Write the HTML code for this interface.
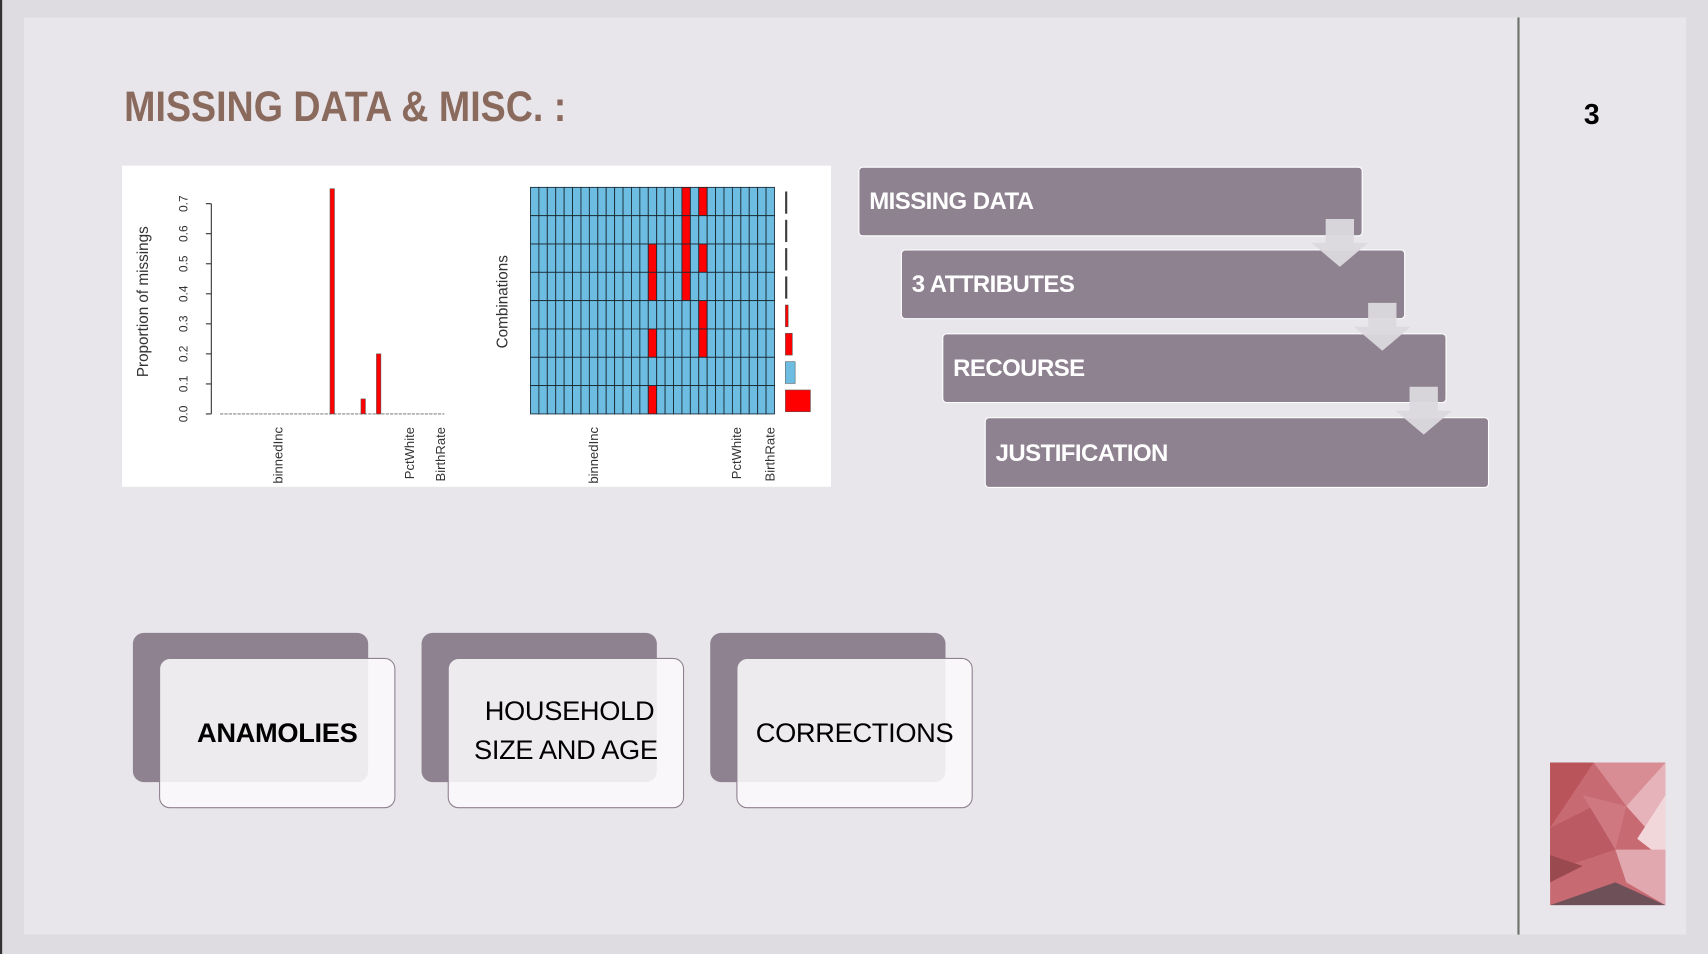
<!DOCTYPE html>
<html><head><meta charset="utf-8"><style>
html,body{margin:0;padding:0;width:1708px;height:954px;overflow:hidden;background:#dedce1;}
#stage{position:absolute;left:0;top:0;width:1568px;height:876px;transform:scale(1.08929);transform-origin:0 0;font-family:"Liberation Sans",sans-serif;}
.abs{position:absolute;}
.flow{position:absolute;background:#8e8190;border:1.5px solid #fff;border-radius:4px;color:#fff;font-weight:bold;font-size:22px;box-sizing:border-box;padding-left:9px;display:flex;align-items:center;letter-spacing:-0.5px;}
.back{position:absolute;background:#8e8190;border-radius:10px;width:216px;height:137px;}
.front{position:absolute;background:rgba(250,249,251,0.88);border:1.5px solid #8e8190;border-radius:10px;width:217px;height:138px;box-sizing:border-box;display:flex;align-items:center;justify-content:center;text-align:center;font-size:25px;color:#000;line-height:36px;letter-spacing:-0.3px;}
</style></head><body>
<div id="stage">
<div class="abs" style="left:0;top:0;width:2px;height:876px;background:#333;"></div>
<div class="abs" style="left:22px;top:16px;width:1526px;height:842px;background:#e8e6eb;"></div>
<div class="abs" style="left:1393px;top:16px;width:2px;height:842px;background:#6f746d;"></div>
<div class="abs" style="left:114px;top:77px;font-weight:bold;font-size:39px;color:#8b6a5e;transform:scaleX(0.885);transform-origin:0 0;white-space:nowrap;">MISSING DATA &amp; MISC. :</div>
<div class="abs" style="left:1454px;top:90px;font-weight:bold;font-size:26px;color:#000;">3</div>

<svg class="abs" style="left:112px;top:152px" width="651" height="295" viewBox="112 152 651 295" font-family="Liberation Sans, sans-serif">
<rect x="112" y="152" width="651" height="295" fill="#fff"/>
<g id="bars"></g><g id="matrix"></g>
</svg>

<div class="flow" style="left:788px;top:153px;width:463px;height:64px;">MISSING DATA</div>
<div class="flow" style="left:827px;top:229px;width:463px;height:64px;">3 ATTRIBUTES</div>
<div class="flow" style="left:865px;top:306px;width:463px;height:64px;">RECOURSE</div>
<div class="flow" style="left:904px;top:383px;width:463px;height:65px;">JUSTIFICATION</div>
<svg class="abs" style="left:0;top:0" width="1568" height="876">
<path d="M1217 201h26v22h13l-26 22l-26-22h13z" fill="#dcd9de" opacity="0.95"/>
<path d="M1256 278h26v22h13l-26 22l-26-22h13z" fill="#dcd9de" opacity="0.95"/>
<path d="M1294 355h26v22h13l-26 22l-26-22h13z" fill="#dcd9de" opacity="0.95"/>
</svg>

<div class="back" style="left:122px;top:581px;"></div>
<div class="front" style="left:146px;top:604px;font-weight:bold;">ANAMOLIES</div>
<div class="back" style="left:387px;top:581px;"></div>
<div class="front" style="left:411px;top:604px;padding-bottom:4px;">&nbsp;HOUSEHOLD<br>SIZE AND AGE</div>
<div class="back" style="left:652px;top:581px;"></div>
<div class="front" style="left:676px;top:604px;">CORRECTIONS</div>

<svg class="abs" style="left:1423px;top:700px" width="106" height="131" viewBox="0 0 106 131">
<rect width="106" height="131" fill="#c86a72"/>
<polygon points="0,0 40,0 0,60" fill="#b8545a"/>
<polygon points="40,0 106,0 70,40" fill="#d88c94"/>
<polygon points="70,40 106,0 106,80" fill="#e6b3ba"/>
<polygon points="106,30 106,90 80,70" fill="#f1d6da"/>
<polygon points="0,60 40,40 60,80 0,100" fill="#bb5a62"/>
<polygon points="60,80 106,80 106,131 70,110" fill="#e2a8b0"/>
<polygon points="0,85 30,95 0,110" fill="#9a4a4e"/>
<polygon points="0,131 60,110 106,131" fill="#6e5058"/>
<polygon points="30,30 70,40 60,80" fill="#cf7880"/>
</svg>
</div>
<script>
// bar chart data
const nVars = 29;
const missingIdx = [14, 18, 20];
const missingVals = [0.75, 0.05, 0.2];
const yTicks = [0.0, 0.1, 0.2, 0.3, 0.4, 0.5, 0.6, 0.7];
const varLabels = ["binnedInc", "PctWhite", "BirthRate"];
const varLabelIdx = [7, 24, 28];
// combination matrix data (rows top->bottom: indices of missing vars)
const comboRows = [[18,20],[18],[14,18,20],[14,18],[20],[14,20],[],[14]];
const comboFreq = [0.004, 0.004, 0.004, 0.006, 0.01, 0.025, 0.035, 0.09];

const NS = "http://www.w3.org/2000/svg";
function mk(tag, attrs, parent){const e=document.createElementNS(NS,tag);for(const k in attrs)e.setAttribute(k,attrs[k]);parent.appendChild(e);return e;}
const bg = document.getElementById('bars'), mg = document.getElementById('matrix');
const bx0=202, bx1=408, bw=(bx1-bx0)/nVars;
const yScale = v => 380 - v/0.7*193;
const xBar = i => bx0 + i*bw;
let ax=mk('line',{x1:194,x2:194,y1:yScale(0),y2:yScale(0.7),stroke:'#333','stroke-width':1},bg);


yTicks.forEach(t=>{
  mk('line',{x1:189,x2:194,y1:yScale(t),y2:yScale(t),stroke:'#333'},bg);
  const tx=mk('text',{x:0,y:0,transform:`translate(172,${yScale(t)}) rotate(-90)`,'text-anchor':'middle','font-size':11,fill:'#333'},bg);
  tx.textContent=t.toFixed(1);
  
  
});
let yt=mk('text',{transform:'translate(136,277) rotate(-90)','text-anchor':'middle','font-size':14,fill:'#333'},bg);
yt.textContent='Proportion of missings';


mk('line',{x1:bx0,x2:bx1,y1:380,y2:380,stroke:'#888','stroke-dasharray':'3,1'},bg);
missingIdx.forEach((idx,k)=>{
  const r=mk('rect',{x:xBar(idx)+1.5,y:yScale(missingVals[k]),width:bw-3,height:yScale(0)-yScale(missingVals[k]),fill:'#f00',stroke:'#555','stroke-width':0.5},bg);
  
  
});
varLabels.forEach((l,k)=>{
  const t=mk('text',{transform:`translate(${xBar(varLabelIdx[k])+bw/2+4},392) rotate(-90)`,'text-anchor':'end','font-size':12,fill:'#333'},bg);
  t.textContent=l;
  
  
  const t2=mk('text',{transform:`translate(${487+(varLabelIdx[k]+0.5)*(224/nVars)+4},392) rotate(-90)`,'text-anchor':'end','font-size':12,fill:'#333'},mg);
  t2.textContent=l;
  
  
});
const mx0=487, mw=224/nVars, my0=172, mh=208/comboRows.length;
comboRows.forEach((row,r)=>{
  for(let c=0;c<nVars;c++){
    const cell=mk('rect',{x:mx0+c*mw,y:my0+r*mh,width:mw,height:mh,fill:row.includes(c)?'#f00':'#6dbde3',stroke:'#1a2a33','stroke-width':0.8},mg);
    
    
  }
  const f=comboFreq[r], w=Math.max(1.5,f/0.09*23);
  const fb=mk('rect',{x:721,y:my0+r*mh+4,width:w,height:mh-6,fill:(r===6?'#6dbde3':(r<4?'#333':'#f00')),stroke:'#555','stroke-width':0.5},mg);
  
  
});
let ct=mk('text',{transform:'translate(466,277) rotate(-90)','text-anchor':'middle','font-size':14,fill:'#333'},mg);
ct.textContent='Combinations';


</script>
</body></html>
